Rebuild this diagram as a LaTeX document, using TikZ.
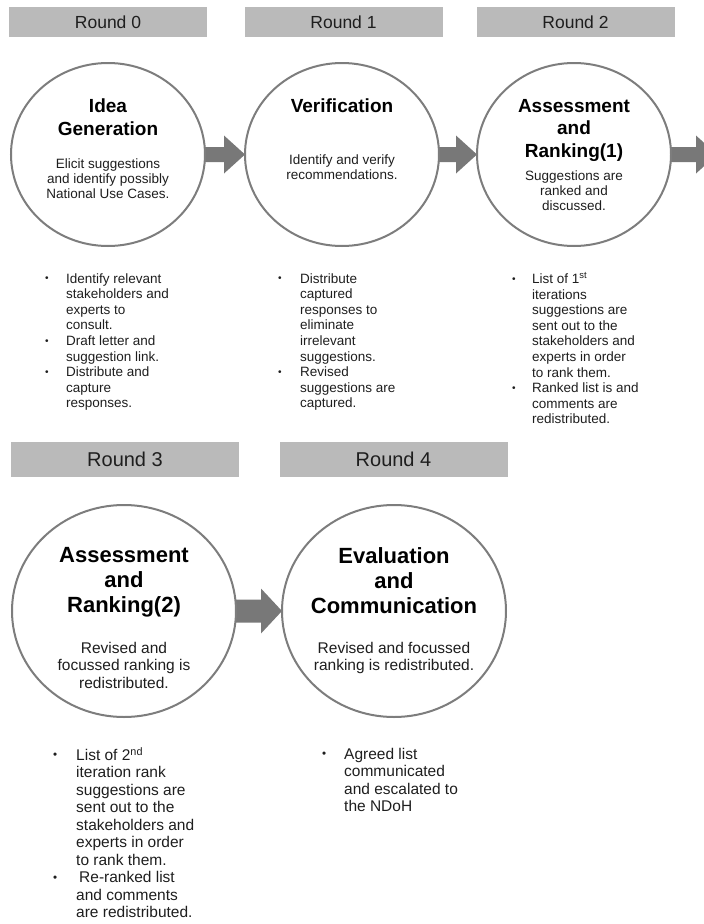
\documentclass[tikz,border=0pt]{standalone}
\usepackage{fontspec}
\setmainfont{Liberation Sans}
\usetikzlibrary{shapes.geometric,calc,backgrounds}

\definecolor{ringgray}{RGB}{125,125,125}
\definecolor{arrowgray}{RGB}{120,120,120}
\definecolor{bargray}{RGB}{186,186,186}
\definecolor{inkgray}{RGB}{30,30,30}

% small list bullet
\newcommand{\dotmark}{\raisebox{0.1em}{\scalebox{0.75}{\textbullet}}}

% block arrow from #1 to #2: shaft half height #3, head half height #4, head length #5
\newcommand{\flowarrow}[5]{%
  \fill[flow] ($(#1)+(-3,-#3)$) -- ($(#2)+(-#5,-#3)$) -- ($(#2)+(-#5,-#4)$)
    -- ($(#2)+(1,0)$) -- ($(#2)+(-#5,#4)$) -- ($(#2)+(-#5,#3)$)
    -- ($(#1)+(-3,#3)$) -- cycle;}

\tikzset{
  ring/.style={ellipse, draw=ringgray, line width=2pt, fill=white, inner sep=0pt},
  ringtop/.style={ring, minimum width=194pt, minimum height=183pt},
  ringbot/.style={ring, minimum width=224pt, minimum height=212pt},
  bar/.style={fill=bargray, inner sep=0pt, text=inkgray},
  bartop/.style={bar, minimum width=198pt, minimum height=30pt, font=\fontsize{17.5}{20}\selectfont},
  barbot/.style={bar, minimum width=228pt, minimum height=35pt, font=\fontsize{20}{24}\selectfont},
  titletop/.style={anchor=north, align=center, inner sep=0pt, font=\bfseries\fontsize{19}{22.5}\selectfont},
  titlebot/.style={anchor=north, align=center, inner sep=0pt, font=\bfseries\fontsize{22}{25}\selectfont},
  bodytop/.style={anchor=north, align=center, inner sep=0pt, text=inkgray, font=\fontsize{13.5}{15}\selectfont},
  bodybot/.style={anchor=north, align=center, inner sep=0pt, text=inkgray, font=\fontsize{15.5}{17.5}\selectfont},
  listtop/.style={anchor=north west, inner sep=0pt, text=inkgray, font=\fontsize{13.5}{15.6}\selectfont},
  listbot/.style={anchor=north west, inner sep=0pt, text=inkgray, font=\fontsize{15.5}{17.5}\selectfont},
  flow/.style={fill=arrowgray, draw=none},
}

\begin{document}
\begin{tikzpicture}[x=1pt, y=-1pt]
  \useasboundingbox (0,0) rectangle (704,924);
  \clip (0,0) rectangle (704,924);

  % round headers
  \node[bartop] (h0) at (108,22) {Round 0};
  \node[bartop] (h1) at (343.5,22) {Round 1};
  \node[bartop] (h2) at (575.5,22) {Round 2};
  \node[barbot] (h3) at (125,459.5) {Round 3};
  \node[barbot] (h4) at (393.5,459.5) {Round 4};

  % stage circles
  \node[ringtop] (c0) at (108,154.5) {};
  \node[ringtop] (c1) at (342,154.5) {};
  \node[ringtop] (c2) at (574,154.5) {};
  \node[ringbot] (c3) at (124,611) {};
  \node[ringbot] (c4) at (394,611) {};
  \coordinate (c2out) at (716,154.5);

  % block arrows behind the circles
  \begin{scope}[on background layer]
    \flowarrow{c0.east}{c1.west}{7.5}{19}{20}
    \flowarrow{c1.east}{c2.west}{7.5}{19}{20}
    \flowarrow{c2.east}{c2out}{7.5}{19}{20}
    \flowarrow{c3.east}{c4.west}{11.5}{22.5}{20}
  \end{scope}

  % circle texts
  \node[titletop] (t0) at (108,99) {Idea\\Generation};
  \node[bodytop] (d0) at (108,159) {Elicit suggestions\\and identify possibly\\National Use Cases.};
  \node[titletop] (t1) at (342,99) {Verification};
  \node[bodytop] (d1) at (342,155) {Identify and verify\\recommendations.};
  \node[titletop] (t2) at (574,99) {Assessment\\and\\Ranking(1)};
  \node[bodytop] (d2) at (574,171) {Suggestions are\\ranked and\\discussed.};
  \node[titlebot] (t3) at (124,547) {Assessment\\and\\Ranking(2)};
  \node[bodybot] (d3) at (124,642) {Revised and\\focussed ranking is\\redistributed.};
  \node[titlebot] (t4) at (394,547) {Evaluation\\and\\Communication};
  \node[bodybot] (d4) at (394,642) {Revised and focussed\\ranking is redistributed.};

  % task lists
  \node[listtop] (l0) at (45,272) {\begin{tabular}{@{}p{21pt}@{}l@{}}
    \dotmark & Identify relevant\\
     & stakeholders and\\
     & experts to\\
     & consult.\\
    \dotmark & Draft letter and\\
     & suggestion link.\\
    \dotmark & Distribute and\\
     & capture\\
     & responses.
  \end{tabular}};
  \node[listtop] (l1) at (278,272) {\begin{tabular}{@{}p{22pt}@{}l@{}}
    \dotmark & Distribute\\
     & captured\\
     & responses to\\
     & eliminate\\
     & irrelevant\\
     & suggestions.\\
    \dotmark & Revised\\
     & suggestions are\\
     & captured.
  \end{tabular}};
  \node[listtop] (l2) at (512,272) {\begin{tabular}{@{}p{20pt}@{}l@{}}
    \dotmark & List of 1\textsuperscript{st}\\
     & iterations\\
     & suggestions are\\
     & sent out to the\\
     & stakeholders and\\
     & experts in order\\
     & to rank them.\\
    \dotmark & Ranked list is and\\
     & comments are\\
     & redistributed.
  \end{tabular}};
  \node[listbot] (l3) at (53,747) {\begin{tabular}{@{}p{23pt}@{}l@{}}
    \dotmark & List of 2\textsuperscript{nd}\\
     & iteration rank\\
     & suggestions are\\
     & sent out to the\\
     & stakeholders and\\
     & experts in order\\
     & to rank them.\\
    \dotmark & \hspace{3pt}Re-ranked list\\
     & and comments\\
     & are redistributed.
  \end{tabular}};
  \node[listbot] (l4) at (322,747) {\begin{tabular}{@{}p{22pt}@{}l@{}}
    \dotmark & Agreed list\\
     & communicated\\
     & and escalated to\\
     & the NDoH
  \end{tabular}};
\end{tikzpicture}
\end{document}
